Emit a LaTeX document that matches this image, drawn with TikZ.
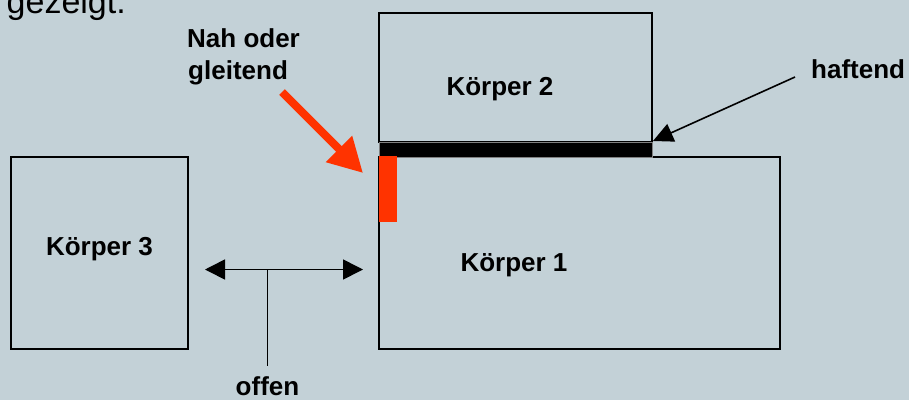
\documentclass[tikz,border=0pt]{standalone}
\usepackage{fontspec}
\setmainfont{Liberation Sans}
\usetikzlibrary{arrows.meta}
\definecolor{bg}{RGB}{195,209,215}
\definecolor{redo}{RGB}{255,51,0}
\begin{document}
\begin{tikzpicture}[x=1pt,y=-1pt,
  body/.style={draw=black,line width=1.6pt,inner sep=0,outer sep=0,anchor=north west},
  lbl/.style={font=\fontsize{26}{32}\selectfont\bfseries,inner sep=0},
  thin/.style={draw=black,line width=1.6pt},
]
\fill[bg] (0,0) rectangle (909,400);
\useasboundingbox (0,0) rectangle (909,400);

% bodies
\node[body,minimum width=401pt,minimum height=192pt] (k1) at (379,157) {};
\node[body,minimum width=273pt,minimum height=129pt] (k2) at (379,13) {};
\node[body,minimum width=177pt,minimum height=192pt] (k3) at (11,157) {};

% adhesive bar and red contact bar
\node[anchor=north west,fill=black,draw=gray,line width=1pt,inner sep=0,outer sep=0,
      minimum width=273pt,minimum height=15pt] (bar) at (379,142) {};
\node[anchor=north west,fill=redo,inner sep=0,outer sep=0,
      minimum width=18pt,minimum height=66pt] (rbar) at (379,156) {};

% labels
\node[lbl,anchor=base] (l2) at (500,95) {Körper 2};
\node[lbl,anchor=base] (l1) at (514,271.7) {Körper 1};
\node[lbl,anchor=base] (l3) at (99.5,255) {Körper 3};
\node[lbl,anchor=base west] (lh) at (811,78) {haftend};
\node[lbl,anchor=base west] (ln1) at (187,47) {Nah oder};
\node[lbl,anchor=base west] (ln2) at (188,79) {gleitend};
\node[lbl,anchor=base] (lo) at (267.5,395) {offen};
\node[font=\fontsize{34}{40}\selectfont,inner sep=0,anchor=base east] (gz) at (126,13.5) {gezeigt.};

% red arrow
\coordinate (ra1) at (282,92);
\coordinate (ra2) at (363,173);
\draw[redo,line width=8pt,-{Triangle[length=34pt,width=35pt]}] (ra1) -- (ra2);

% haftend arrow
\coordinate (ha1) at (795,77);
\coordinate (ha2) at (653,141);
\draw[thin,-{Triangle[length=20pt,width=19pt]}] (ha1) -- (ha2);

% offen double arrow
\coordinate (oa1) at (205,269.5);
\coordinate (oa2) at (363,269.5);
\coordinate (om) at (267.5,269.5);
\coordinate (ob) at (267.5,366);
\draw[thin,{Triangle[length=20pt,width=20pt]}-{Triangle[length=20pt,width=20pt]}] (oa1) -- (oa2);
\draw[thin] (om) -- (ob);
\end{tikzpicture}
\end{document}
